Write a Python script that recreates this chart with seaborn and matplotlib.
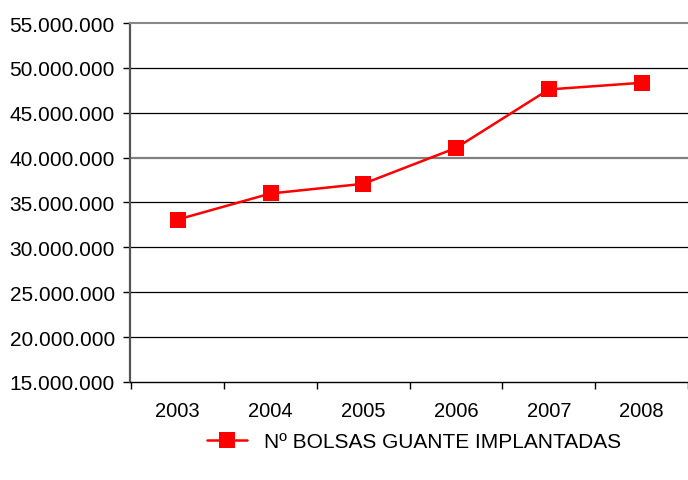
import numpy as np
import pandas as pd
import matplotlib
matplotlib.use("Agg")
import matplotlib.pyplot as plt
from matplotlib.ticker import FuncFormatter
import seaborn as sns

years = ["2003", "2004", "2005", "2006", "2007", "2008"]
bolsas = [33100000, 36000000, 37080000, 41080000, 47600000, 48340000]
serie_label = "Nº BOLSAS GUANTE IMPLANTADAS"

df = pd.DataFrame({"year": years, "value": bolsas})

sns.set_style("white")
plt.rcParams['font.family'] = ['Liberation Sans', 'DejaVu Sans']
plt.rcParams['text.color'] = 'black'
plt.rcParams['xtick.color'] = 'black'
plt.rcParams['ytick.color'] = 'black'

fig = plt.figure(figsize=(6.88, 4.81), dpi=100)
ax = fig.add_axes([0.189, 0.204, 0.811, 0.746])

sns.lineplot(data=df, x="year", y="value", ax=ax, color="#ff0000",
             marker="s", markersize=11, markeredgewidth=0, linewidth=1.8,
             label=serie_label, legend=False)

ax.set_ylim(15000000, 55000000)
ax.set_yticks(np.arange(15000000, 55000001, 5000000))
ax.yaxis.set_major_formatter(FuncFormatter(lambda v, p: f"{int(v):,}".replace(",", ".")))
# the plot area runs past the right edge of the picture
ax.set_xlim(-0.515, 5.39)
ax.set_xlabel("")
ax.set_ylabel("")

# gridlines (the 40M one is drawn grey and heavier in the original)
for v in np.arange(20000000, 50000001, 5000000):
    if v == 40000000:
        ax.axhline(v, color="#808080", linewidth=1.6, zorder=0)
    else:
        ax.axhline(v, color="black", linewidth=0.9, zorder=0)

ax.spines["top"].set_color("#888888")
ax.spines["top"].set_linewidth(1.5)
ax.spines["right"].set_visible(False)
ax.spines["left"].set_color("#555555")
ax.spines["left"].set_linewidth(1.6)
ax.spines["bottom"].set_color("black")
ax.spines["bottom"].set_linewidth(1.0)

ax.tick_params(axis="y", which="major", length=5, width=1, color="black",
               direction="out", labelsize=15, pad=6, left=True)
ax.set_xticks(range(len(years)))
ax.set_xticklabels(years)
ax.set_xticks(np.arange(-0.5, 5.6, 1), minor=True)
ax.tick_params(axis="x", which="major", length=0, labelsize=14.5, pad=14)
ax.tick_params(axis="x", which="minor", length=5, width=1, color="black",
               direction="out", bottom=True)

handles, labels = ax.get_legend_handles_labels()
fig.legend(handles, labels, loc="center", bbox_to_anchor=(0.602, 0.08),
           frameon=False, fontsize=15, handlelength=1.9, handletextpad=0.8)

fig.savefig("out.png", dpi=100)
